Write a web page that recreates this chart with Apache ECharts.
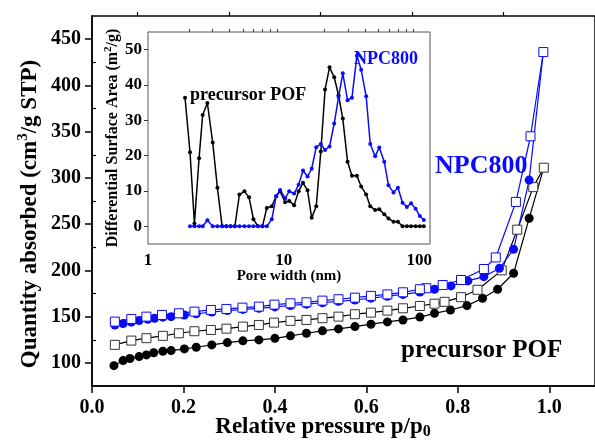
<!DOCTYPE html>
<html>
<head>
<meta charset="utf-8">
<script src="https://cdn.jsdelivr.net/npm/echarts@6/dist/echarts.min.js"></script>
<style>
html, body { margin: 0; padding: 0; background: #fff; }
#chart { width: 595px; height: 440px; }
</style>
</head>
<body>
<div id="chart"></div>
<script>
// isotherms: relative pressure / quantity absorbed
var pAdsPOF = [0.048, 0.068, 0.083, 0.103, 0.119, 0.135, 0.155, 0.173, 0.202, 0.228, 0.262, 0.296, 0.33, 0.365, 0.4, 0.434, 0.469, 0.504, 0.539, 0.575, 0.61, 0.646, 0.68, 0.717, 0.749, 0.784, 0.82, 0.854, 0.887, 0.922, 0.956, 0.988];
var vAdsPOF = [97, 102.5, 104.7, 106.8, 108.6, 111, 112.6, 113.3, 115.1, 116.9, 119.4, 121.9, 123.8, 124.8, 126.5, 129.2, 132, 134.6, 136.7, 139.2, 141.8, 144.3, 146.4, 149.5, 153.6, 157.2, 161.9, 169.9, 179.6, 196.9, 256.3, 311];
var pDesPOF = [0.988, 0.965, 0.93, 0.896, 0.843, 0.807, 0.771, 0.749, 0.717, 0.68, 0.646, 0.61, 0.575, 0.539, 0.504, 0.469, 0.434, 0.398, 0.365, 0.33, 0.294, 0.26, 0.224, 0.19, 0.155, 0.119, 0.086, 0.05];
var vDesPOF = [311, 290, 244, 200, 179, 171, 166, 164, 161.5, 159, 156.5, 154.3, 152.6, 150, 148.3, 146.4, 145.4, 143.5, 141, 139.2, 137, 135.6, 134.2, 132, 129.2, 126.7, 124.1, 119.5];
var pAdsNPC = [0.05, 0.068, 0.086, 0.103, 0.122, 0.137, 0.155, 0.173, 0.202, 0.228, 0.262, 0.296, 0.33, 0.365, 0.4, 0.434, 0.469, 0.504, 0.539, 0.575, 0.61, 0.646, 0.68, 0.717, 0.749, 0.785, 0.822, 0.857, 0.891, 0.922, 0.956, 0.987];
var vAdsNPC = [141, 142.5, 144, 145.7, 147.2, 148.3, 149.4, 150, 151.8, 153, 155, 156.5, 157.8, 159, 160.5, 162, 163.5, 165, 166.5, 168, 170, 172, 174, 176.5, 179.6, 183.2, 188.6, 193.2, 202.3, 222.8, 297.6, 436];
var pDesNPC = [0.987, 0.959, 0.927, 0.883, 0.857, 0.807, 0.767, 0.731, 0.717, 0.68, 0.646, 0.61, 0.575, 0.539, 0.504, 0.469, 0.434, 0.399, 0.365, 0.329, 0.294, 0.26, 0.224, 0.19, 0.153, 0.119, 0.086, 0.05];
var vDesNPC = [436, 345, 274, 214, 201.5, 189.6, 184.2, 180.7, 179.6, 176.3, 174, 172.4, 170.5, 168.8, 167.3, 165.5, 164.4, 163, 160.8, 159.7, 158.3, 157.2, 155.4, 153.6, 151.8, 150, 147.5, 144.6];

// inset: pore size distribution
var dPOF = [1.875, 2.04, 2.2, 2.38, 2.53, 2.74, 3.0, 3.25, 3.52, 3.78, 4.06, 4.37, 4.72, 5.14, 5.56, 5.99, 6.47, 6.98, 7.51, 8.18, 8.81, 9.42, 10.26, 11.0, 11.95, 12.9, 13.9, 15.0, 16.1, 17.4, 18.8, 20.2, 21.8, 23.6, 25.4, 27.3, 29.6, 31.9, 34.7, 37.3, 40.6, 43.5, 47.3, 50.7, 55.2, 59.3, 64.6, 69.6, 75.3, 81, 87, 94, 101, 108];
var sPOF = [36.4, 21, 0.8, 19.3, 31.5, 34.9, 23.7, 10.9, 0, 0, 0, 0, 9, 9.9, 8.2, 2, 0, 0, 5.2, 5.7, 8.5, 9.9, 6.8, 7.2, 6.0, 9.9, 12.3, 10.2, 2.4, 5.7, 21.2, 38.7, 45, 42.2, 37.1, 30.5, 18.3, 14.3, 14.3, 11.3, 9, 5.7, 4.6, 4.8, 3.4, 2.2, 1.3, 1.3, 0, 0, 0, 0, 0, 0];
var dNPC = [2.04, 2.2, 2.38, 2.53, 2.74, 3.0, 3.25, 3.52, 3.78, 4.06, 4.37, 4.72, 5.14, 5.56, 5.99, 6.47, 6.98, 7.51, 8.18, 8.81, 9.42, 10.26, 11.0, 11.95, 12.9, 13.9, 15.0, 16.1, 17.4, 18.8, 20.2, 21.8, 23.6, 25.4, 27.3, 29.6, 31.9, 34.7, 37.3, 40.6, 43.5, 47.3, 50.7, 55.2, 59.3, 64.6, 69.6, 75.3, 81, 87, 94, 101, 108];
var sNPC = [0, 0, 0, 0, 1.7, 0, 0, 0, 0, 0, 0, 0, 0, 0, 0, 0, 0, 0, 2, 8.5, 10.3, 7.9, 9.9, 9.3, 11.8, 15.8, 14.1, 16.3, 22.4, 23.3, 21.6, 22.6, 29.1, 36.6, 43.3, 35.7, 36.4, 48.3, 44.3, 36.8, 23.3, 19.8, 22.3, 18.3, 11.6, 9.6, 10.9, 6.7, 5.5, 6.5, 5, 2.9, 1.8];

// tick values
var xTicks = [0, 0.2, 0.4, 0.6, 0.8, 1.0];
var xMinor = [0.1, 0.3, 0.5, 0.7, 0.9];
var yTicks = [100, 150, 200, 250, 300, 350, 400, 450];
var yMinor = [125, 175, 225, 275, 325, 375, 425];
var dTicks = [1, 10, 100];
var dMinor = [2, 3, 4, 5, 6, 7, 8, 9, 20, 30, 40, 50, 60, 70, 80, 90];
var sTicks = [0, 10, 20, 30, 40, 50];

var serif = '"Liberation Serif", "Times New Roman", serif';
var blue = '#0a0aff';

function zip(xs, ys) {
    var out = [];
    for (var i = 0; i < xs.length; i++) out.push([xs[i], ys[i]]);
    return out;
}

var myChart = echarts.init(document.getElementById('chart'));

var labelStyle = function (size) {
    return { color: '#000', fontFamily: serif, fontWeight: 'bold', fontSize: size };
};

var option = {
    animation: false,
    grid: [
        { left: 92, top: 16, width: 506, height: 370, show: true, borderColor: '#000', borderWidth: 1.5 },
        { left: 148, top: 32, width: 282, height: 212, show: true, borderColor: '#555', borderWidth: 1, backgroundColor: '#fff', z: 5 }
    ],
    xAxis: [
        {
            gridIndex: 0, type: 'value', min: 0, max: 1.1,
            axisLine: { lineStyle: { color: '#000', width: 1.5 } },
            axisTick: { customValues: xTicks, length: 7, lineStyle: { color: '#000', width: 1.5 } },
            axisLabel: Object.assign({ customValues: xTicks, margin: 12, formatter: function (v) { return v.toFixed(1); } }, labelStyle(20)),
            splitLine: { show: false }
        },
        {
            gridIndex: 0, type: 'value', min: 0, max: 1.1,
            axisLine: { show: false },
            axisTick: { customValues: xMinor, length: 4, lineStyle: { color: '#000', width: 1.2 } },
            axisLabel: { show: false }, splitLine: { show: false }
        },
        {
            gridIndex: 1, type: 'log', logBase: 10, min: 1, max: 120,
            axisLine: { lineStyle: { color: '#555', width: 1 } },
            axisTick: { customValues: dTicks, length: 5, lineStyle: { color: '#333' } },
            axisLabel: Object.assign({ customValues: dTicks, margin: 8 }, labelStyle(17)),
            splitLine: { show: false }, minorSplitLine: { show: false }
        },
        {
            gridIndex: 1, type: 'log', logBase: 10, min: 1, max: 120,
            axisLine: { show: false },
            axisTick: { customValues: dMinor, length: 3, lineStyle: { color: '#333' } },
            axisLabel: { show: false }, splitLine: { show: false }
        }
    ],
    yAxis: [
        {
            gridIndex: 0, type: 'value', min: 75, max: 475,
            axisLine: { lineStyle: { color: '#000', width: 1.5 } },
            axisTick: { customValues: yTicks, length: 7, lineStyle: { color: '#000', width: 1.5 } },
            axisLabel: Object.assign({ customValues: yTicks, margin: 11 }, labelStyle(20)),
            splitLine: { show: false }
        },
        {
            gridIndex: 0, type: 'value', min: 75, max: 475,
            axisLine: { show: false },
            axisTick: { customValues: yMinor, length: 4, lineStyle: { color: '#000', width: 1.2 } },
            axisLabel: { show: false }, splitLine: { show: false }
        },
        {
            gridIndex: 1, type: 'value', min: -5, max: 55,
            axisLine: { lineStyle: { color: '#555', width: 1 } },
            axisTick: { customValues: sTicks, length: 4, lineStyle: { color: '#333' } },
            axisLabel: Object.assign({ customValues: sTicks, margin: 6 }, labelStyle(17)),
            splitLine: { show: false }
        }
    ],
    series: [
        {
            name: 'POF ads', type: 'line', xAxisIndex: 0, yAxisIndex: 0,
            data: zip(pAdsPOF, vAdsPOF),
            symbol: 'circle', symbolSize: 9,
            itemStyle: { color: '#000' },
            lineStyle: { color: '#000', width: 1.2 }
        },
        {
            name: 'POF des', type: 'line', xAxisIndex: 0, yAxisIndex: 0,
            data: zip(pDesPOF, vDesPOF),
            symbol: 'rect', symbolSize: 9,
            itemStyle: { color: '#fff', borderColor: '#333', borderWidth: 1 },
            lineStyle: { color: '#000', width: 1.2 }
        },
        {
            name: 'NPC ads', type: 'line', xAxisIndex: 0, yAxisIndex: 0,
            data: zip(pAdsNPC, vAdsNPC),
            symbol: 'circle', symbolSize: 9,
            itemStyle: { color: blue },
            lineStyle: { color: blue, width: 1.2 }
        },
        {
            name: 'NPC des', type: 'line', xAxisIndex: 0, yAxisIndex: 0,
            data: zip(pDesNPC, vDesNPC),
            symbol: 'rect', symbolSize: 9,
            itemStyle: { color: '#fff', borderColor: blue, borderWidth: 1 },
            lineStyle: { color: blue, width: 1.2 }
        },
        {
            name: 'POF psd', type: 'line', xAxisIndex: 2, yAxisIndex: 2, z: 6,
            data: zip(dPOF, sPOF),
            symbol: 'circle', symbolSize: 4,
            itemStyle: { color: '#000' },
            lineStyle: { color: '#000', width: 1.5 }
        },
        {
            name: 'NPC psd', type: 'line', xAxisIndex: 2, yAxisIndex: 2, z: 7,
            data: zip(dNPC, sNPC),
            symbol: 'circle', symbolSize: 4,
            itemStyle: { color: blue },
            lineStyle: { color: blue, width: 1.5 }
        }
    ],
    graphic: [
        {
            type: 'text', x: 30, y: 214, rotation: Math.PI / 2,
            style: {
                text: '{a|Quantity absorbed (cm}{s|3}{a|/g STP)}',
                align: 'center', verticalAlign: 'middle', fill: '#000',
                rich: {
                    a: { fontFamily: serif, fontWeight: 'bold', fontSize: 23, lineHeight: 28 },
                    s: { fontFamily: serif, fontWeight: 'bold', fontSize: 15, lineHeight: 28, verticalAlign: 'top' }
                }
            }
        },
        {
            type: 'text', x: 323, y: 427,
            style: {
                text: '{a|Relative pressure p/p}{s|0}',
                align: 'center', verticalAlign: 'middle', fill: '#000',
                rich: {
                    a: { fontFamily: serif, fontWeight: 'bold', fontSize: 23, lineHeight: 26 },
                    s: { fontFamily: serif, fontWeight: 'bold', fontSize: 16, lineHeight: 26, verticalAlign: 'bottom', padding: [10, 0, 0, 0] }
                }
            }
        },
        {
            type: 'text', x: 113, y: 138, rotation: Math.PI / 2, z: 10,
            style: {
                text: '{a|Differential Surface Area (m}{s|2}{a|/g)}',
                align: 'center', verticalAlign: 'middle', fill: '#000',
                rich: {
                    a: { fontFamily: serif, fontWeight: 'bold', fontSize: 16, lineHeight: 20 },
                    s: { fontFamily: serif, fontWeight: 'bold', fontSize: 11, lineHeight: 20, verticalAlign: 'top' }
                }
            }
        },
        {
            type: 'text', x: 289, y: 276, z: 10,
            style: {
                text: 'Pore width (nm)', align: 'center', verticalAlign: 'middle', fill: '#000',
                font: 'bold 15px ' + serif
            }
        },
        {
            type: 'text', x: 190, y: 86, z: 10,
            style: { text: 'precursor POF', align: 'left', verticalAlign: 'alphabetic', fill: '#000', font: 'bold 18px ' + serif }
        },
        {
            type: 'text', x: 354, y: 50, z: 10,
            style: { text: 'NPC800', align: 'left', verticalAlign: 'alphabetic', fill: blue, font: 'bold 18px ' + serif }
        },
        {
            type: 'text', x: 435, y: 153, z: 10,
            style: { text: 'NPC800', align: 'left', verticalAlign: 'alphabetic', fill: blue, font: 'bold 26px ' + serif }
        },
        {
            type: 'text', x: 401, y: 338, z: 10,
            style: { text: 'precursor POF', align: 'left', verticalAlign: 'alphabetic', fill: '#000', font: 'bold 25px ' + serif }
        }
    ]
};

myChart.setOption(option);
</script>
</body>
</html>
